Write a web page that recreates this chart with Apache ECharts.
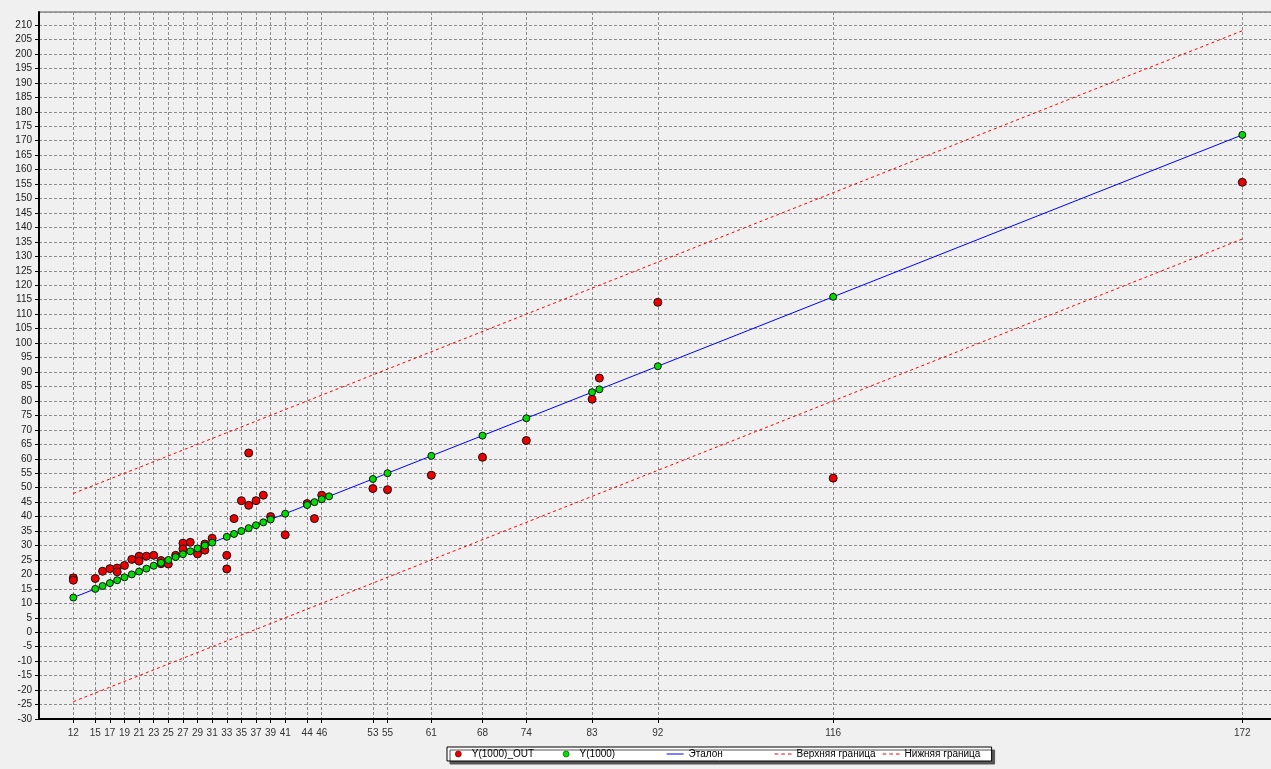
<!DOCTYPE html>
<html>
<head>
<meta charset="utf-8">
<script src="https://cdn.jsdelivr.net/npm/echarts@6/dist/echarts.min.js"></script>
<style>
html,body{margin:0;padding:0;background:#f0f0f0;}
#c{width:1271px;height:769px;}
</style>
</head>
<body>
<div id="c"></div>
<script>
// Tick labels on the x axis
var xTickLabels = [12,15,17,19,21,23,25,27,29,31,33,35,37,39,41,44,46,53,55,61,68,74,83,92,116,172];

// Y(1000) series (green points)
var greenX = [12,15,16,17,18,19,20,21,22,23,24,25,26,27,28,29,30,31,33,34,35,36,37,38,39,41,44,45,46,47,53,55,61,68,74,83,84,92,116,172];
var greenY = [12,15,16,17,18,19,20,21,22,23,24,25,26,27,28,29,30,31,33,34,35,36,37,38,39,41,44,45,46,47,53,55,61,68,74,83,84,92,116,172];

// Y(1000)_OUT series (red points)
var redX = [12,12,15,16,17,18,18,19,20,21,21,22,23,24,24,25,26,27,27,28,29,30,30,31,33,33,34,35,36,36,37,38,39,41,44,45,46,53,55,61,68,74,83,84,92,116,172];
var redY = [18.8,18.0,18.6,21.1,22.0,22.2,20.9,23.1,25.2,26.3,24.6,26.3,26.6,24.8,23.7,23.6,26.6,30.8,28.8,31.1,27.1,30.5,28.4,32.5,26.6,21.9,39.3,45.5,62.0,43.9,45.5,47.4,40.0,33.7,44.5,39.3,47.4,49.7,49.3,54.3,60.5,66.3,80.6,87.9,114.1,53.3,155.6];

// Эталон line
var etalonX = [12,172];
var etalonY = [12,172];

// Upper / lower bounds
var boundX = [12,172];
var upperY = [48,208];
var lowerY = [-24,136];

function pairs(xs, ys){ return xs.map(function(x,i){ return [x, ys[i]]; }); }

var FONT = '"Liberation Sans", Arial, sans-serif';
var chart = echarts.init(document.getElementById('c'), null, {renderer:'canvas'});
function lt(w){ return {fontSize:10, fontFamily:FONT, color:'#000', width:w, lineHeight:12}; }
var solidIcon = 'path://M0,0h17v1h-17z';
var dashIcon = 'path://M0,0h3v1h-3zM5.5,0h3v1h-3zM11,0h3v1h-3z';
chart.setOption({
  backgroundColor:'#f0f0f0',
  animation:false,
  grid:{left:39, right:-2, top:12, bottom:50, show:true, borderColor:'#555', borderWidth:1, backgroundColor:'transparent', outerBoundsMode:'none'},
  legend:{
    left:447, top:747, orient:'horizontal',
    padding:[1,0,1,8], itemGap:0, itemWidth:17, itemHeight:6,
    backgroundColor:'#fff', borderColor:'#000', borderWidth:1,
    shadowColor:'#555', shadowOffsetX:3, shadowOffsetY:3, shadowBlur:0,
    textStyle:lt(86),
    data:[
      {name:'Y(1000)_OUT', textStyle:lt(91), itemStyle:{borderWidth:0.6, borderColor:'#400'}},
      {name:'Y(1000)', textStyle:lt(87), itemStyle:{borderWidth:0.6, borderColor:'#040'}},
      {name:'Эталон', icon:solidIcon, textStyle:lt(86), itemStyle:{color:'#0000ff', borderWidth:0}},
      {name:'Верхняя граница', icon:dashIcon, textStyle:lt(86), itemStyle:{color:'#ff0000', borderWidth:0}},
      {name:'Нижняя граница', icon:dashIcon, textStyle:lt(87), itemStyle:{color:'#ff0000', borderWidth:0}}
    ]
  },
  xAxis:{
    type:'value', min:7.3, max:176.2,
    axisLine:{show:true, onZero:false, lineStyle:{color:'#000', width:2}},
    axisTick:{show:true, length:4, customValues:xTickLabels, lineStyle:{color:'#000'}},
    axisLabel:{customValues:xTickLabels, fontSize:10, fontFamily:FONT, color:'#333', margin:9},
    splitLine:{show:true, lineStyle:{color:'#8c8c8c', type:[3,2], width:1}}
  },
  yAxis:{
    type:'value', min:-30, max:214.5, interval:5,
    axisLine:{show:true, onZero:false, lineStyle:{color:'#000', width:2}},
    axisTick:{show:true, length:4, lineStyle:{color:'#000'}},
    axisLabel:{fontSize:10, fontFamily:FONT, color:'#222', margin:7, showMaxLabel:false,
      formatter:function(v){ return (Math.abs(v % 5) < 1e-9) ? String(v) : ''; }},
    splitLine:{show:true, lineStyle:{color:'#8c8c8c', type:[3,2], width:1}}
  },
  series:[
    {name:'Y(1000)_OUT', type:'scatter', z:3, symbol:'circle', symbolSize:8,
      itemStyle:{color:'#ee0000', borderColor:'#111', borderWidth:1, opacity:1},
      data:pairs(redX, redY)},
    {name:'Y(1000)', type:'scatter', z:4, symbol:'circle', symbolSize:7,
      itemStyle:{color:'#00dd00', borderColor:'#111', borderWidth:1, opacity:1},
      data:pairs(greenX, greenY)},
    {name:'Эталон', type:'line', z:2, symbol:'none', itemStyle:{color:'#0000ff'},
      lineStyle:{color:'#0000ff', width:1}, data:pairs(etalonX, etalonY)},
    {name:'Верхняя граница', type:'line', z:2, symbol:'none', itemStyle:{color:'#ff0000'},
      lineStyle:{color:'#ff0000', width:1, type:[3,3]}, data:pairs(boundX, upperY)},
    {name:'Нижняя граница', type:'line', z:2, symbol:'none', itemStyle:{color:'#ff0000'},
      lineStyle:{color:'#ff0000', width:1, type:[3,3]}, data:pairs(boundX, lowerY)}
  ]
});
</script>
</body>
</html>
